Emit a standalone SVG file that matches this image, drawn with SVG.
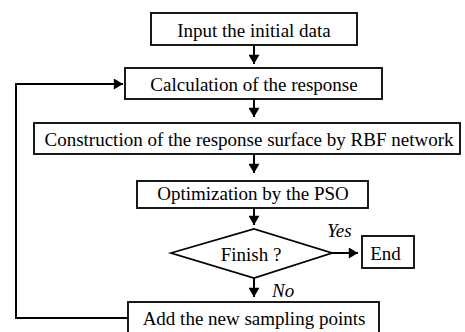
<svg xmlns="http://www.w3.org/2000/svg" width="465" height="332" viewBox="0 0 465 332">
<defs>
<style>
.box{fill:#fff;stroke:#000;stroke-width:1.8}
.c{fill:none;stroke:#000;stroke-width:2}
</style>
<marker id="ah" viewBox="0 0 10 12" refX="10" refY="6" markerWidth="10" markerHeight="11" markerUnits="userSpaceOnUse" orient="auto">
<path d="M0,0 L10,6 L0,12 z" fill="#000"/>
</marker>
</defs>
<rect width="465" height="332" fill="#fff"/>
<g id="connectors">
<line class="c" x1="254" y1="45" x2="254" y2="64" marker-end="url(#ah)"/>
<line class="c" x1="254" y1="99" x2="254" y2="117" marker-end="url(#ah)"/>
<line class="c" x1="254" y1="154" x2="254" y2="173" marker-end="url(#ah)"/>
<line class="c" x1="254" y1="208" x2="254" y2="225" marker-end="url(#ah)"/>
<line class="c" x1="332" y1="253" x2="358" y2="253" marker-end="url(#ah)"/>
<line class="c" x1="254" y1="278" x2="254" y2="297" marker-end="url(#ah)"/>
<polyline class="c" points="128,318 16,318 16,84 123,84" marker-end="url(#ah)"/>
<text font-family="Liberation Serif" font-size="19" font-style="italic" x="327" y="237">Yes</text>
<text font-family="Liberation Serif" font-size="19" font-style="italic" x="272" y="297">No</text>
</g>
<g font-family="Liberation Serif" font-size="19" text-anchor="middle" fill="#000">
<g id="n1"><rect class="box" x="151" y="13" width="206" height="32"/><text font-family="Liberation Serif" x="254" y="36.5">Input the initial data</text></g>
<g id="n2"><rect class="box" x="125" y="68" width="257" height="31"/><text font-family="Liberation Serif" x="254" y="90.5">Calculation of the response</text></g>
<g id="n3"><rect class="box" x="34" y="123" width="426" height="31"/><text font-family="Liberation Serif" x="249" y="146">Construction of the response surface by RBF network</text></g>
<g id="n4"><rect class="box" x="137" y="181" width="231" height="27"/><text font-family="Liberation Serif" x="253" y="200">Optimization by the PSO</text></g>
<g id="n5"><polygon class="box" points="171,253 254,229 332,253 254,278"/><text font-family="Liberation Serif" x="251" y="261">Finish ?</text></g>
<g id="n6"><rect class="box" x="362" y="236" width="52" height="32"/><text font-family="Liberation Serif" x="385.5" y="259.5">End</text></g>
<g id="n7"><rect class="box" x="128" y="302" width="251" height="40"/><text font-family="Liberation Serif" x="254" y="325">Add the new sampling points</text></g>
</g>
</svg>
